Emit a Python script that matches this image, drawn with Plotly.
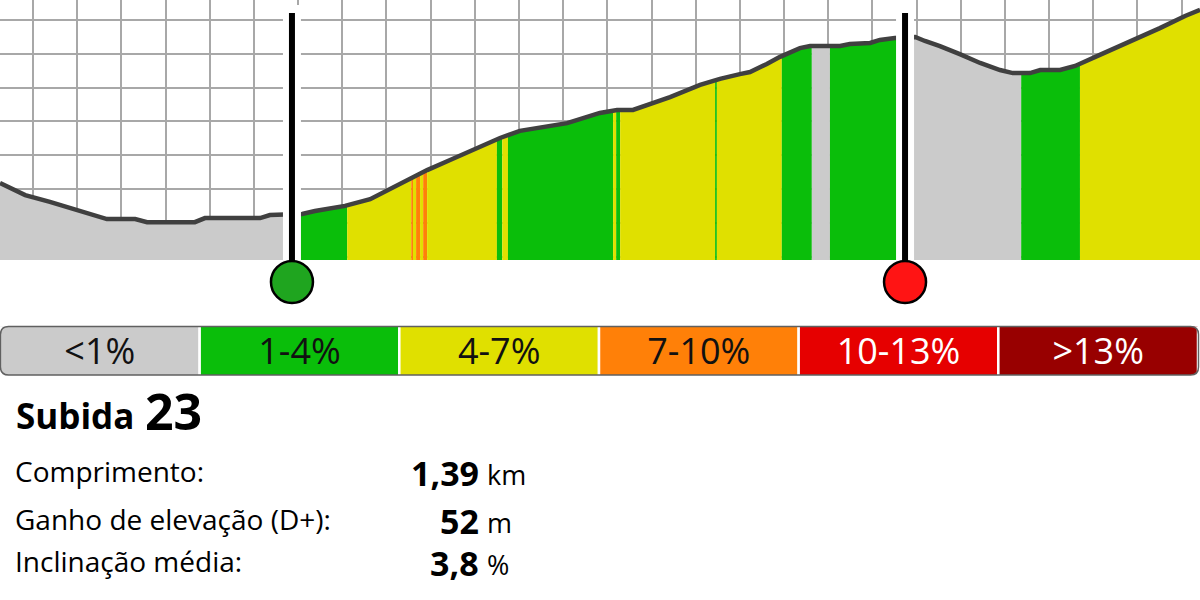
import numpy as np
import plotly.graph_objects as go

# elevation profile (distance km, elevation m)
dist_km = [0.925, 0.948, 0.982, 1.038, 1.083, 1.129, 1.167, 1.231, 1.258, 1.366,
           1.389, 1.514, 1.536, 1.586, 1.609, 1.638, 1.672, 1.706, 1.763, 1.831,
           1.853, 1.892, 1.944, 2.000, 2.057, 2.102, 2.148, 2.209, 2.283, 2.322,
           2.358, 2.397, 2.442, 2.510, 2.555, 2.600, 2.623, 2.661, 2.691, 2.736,
           2.759, 2.827, 2.849, 2.895, 2.917, 2.951, 2.974, 2.997, 3.019, 3.053,
           3.098, 3.144, 3.189, 3.218, 3.257, 3.280, 3.325, 3.359, 3.415, 3.483,
           3.551, 3.608, 3.642]
elev_m = [121.8, 120.3, 118.2, 116.2, 114.4, 112.9, 111.1, 111.1, 110.2, 110.2,
          111.4, 111.4, 112.3, 112.5, 112.6, 113.5, 114.1, 115.0, 117.0, 121.5,
          123.3, 125.6, 128.6, 131.8, 135.1, 137.2, 138.3, 139.5, 142.5, 143.4,
          143.4, 145.2, 147.2, 150.8, 152.6, 154.0, 154.6, 157.0, 159.1, 161.7,
          162.3, 162.3, 162.9, 163.2, 164.1, 164.7, 164.8, 165.0, 163.8, 162.3,
          159.9, 157.3, 155.2, 154.3, 154.3, 155.2, 155.2, 156.4, 159.7, 163.5,
          167.6, 171.2, 173.0]

# gradient segments: end of each segment (km) and its gradient class
seg_end_km = [1.586, 1.711, 1.856, 1.860, 1.867, 1.876, 1.883, 1.892, 2.050, 2.062,
              2.075, 2.313, 2.320, 2.329, 2.544, 2.548, 2.695, 2.763, 2.804, 2.974,
              3.237, 3.370, 3.642]
seg_class = [0, 1, 2, 3, 2, 3, 2, 3, 2, 1, 2, 1, 2, 1, 2, 1, 2, 1, 0, 1, 0, 1, 2]

grade_labels = ["<1%", "1-4%", "4-7%", "7-10%", "10-13%", ">13%"]
grade_colors = ["#cbcbcb", "#0abe0a", "#e0e000", "#ff8008", "#e60000", "#980000"]
grade_text_colors = ["#111111", "#111111", "#111111", "#111111", "#ffffff", "#ffffff"]

climb_start_km = 1.586
climb_end_km = 2.974

climb_number = "23"
stat_labels = ["Comprimento:", "Ganho de elevação (D+):", "Inclinação média:"]
stat_values = ["1,39", "52", "3,8"]
stat_units = ["km", "m", "%"]

W, H = 1200, 600
FONT = "Open Sans"


def px(x):
    return x / W


def py(y):
    return 1 - y / H


fig = go.Figure()

d = np.array(dist_km)
e = np.array(elev_m)
start = d[0]
for end, cls in zip(seg_end_km, seg_class):
    inside = (d > start) & (d < end)
    xs = np.concatenate([[start], d[inside], [end]])
    ys = np.interp(xs, d, e)
    fig.add_trace(go.Scatter(x=xs, y=ys, mode="none", fill="tozeroy",
                             fillcolor=grade_colors[cls], hoverinfo="skip",
                             showlegend=False))
    start = end

fig.add_trace(go.Scatter(x=dist_km, y=elev_m, mode="lines",
                         line=dict(color="#404040", width=4.5),
                         hoverinfo="skip", showlegend=False))

# grade legend bar (bar thicker than the axis window, so the label is not shrunk)
widths = [1] * len(grade_labels)
bases = list(np.cumsum([0] + widths[:-1]))
fig.add_trace(go.Bar(x=widths, y=[0] * len(widths), base=bases, orientation="h",
                     width=1, xaxis="x2", yaxis="y2",
                     marker=dict(color=grade_colors, line=dict(color="white", width=2.5)),
                     text=grade_labels, textposition="inside", insidetextanchor="middle",
                     textangle=0,
                     textfont=dict(family=FONT, size=36, color=grade_text_colors),
                     hoverinfo="skip", showlegend=False))

shapes = []
# climb markers
for km, col in [(climb_start_km, "#1fa51f"), (climb_end_km, "#ff1414")]:
    shapes.append(dict(type="rect", xref="x", yref="paper", xsizemode="pixel",
                       xanchor=km, x0=-9, x1=9, y0=py(260), y1=py(5),
                       fillcolor="white", line=dict(width=0)))
    shapes.append(dict(type="line", xref="x", yref="paper", x0=km, x1=km,
                       y0=py(264), y1=py(13), line=dict(color="black", width=6)))
    shapes.append(dict(type="circle", xref="x", yref="paper", xsizemode="pixel",
                       ysizemode="pixel", xanchor=km, yanchor=py(282),
                       x0=-21, x1=21, y0=-21, y1=21, fillcolor=col,
                       line=dict(color="black", width=2.5)))

# rounded outline of the legend bar
bx0, bx1, by0, by1, r = 0.5, 1198.5, 326.5, 375, 8
for cx, cy, sx, sy in [(bx0, by0, 1, 1), (bx1, by0, -1, 1), (bx0, by1, 1, -1), (bx1, by1, -1, -1)]:
    path = (f"M {px(cx)},{py(cy)} L {px(cx + sx * r)},{py(cy)} "
            f"Q {px(cx)},{py(cy)} {px(cx)},{py(cy + sy * r)} Z")
    shapes.append(dict(type="path", xref="paper", yref="paper", path=path,
                       fillcolor="white", line=dict(width=0)))
outline = (f"M {px(bx0 + r)},{py(by0)} L {px(bx1 - r)},{py(by0)} "
           f"Q {px(bx1)},{py(by0)} {px(bx1)},{py(by0 + r)} L {px(bx1)},{py(by1 - r)} "
           f"Q {px(bx1)},{py(by1)} {px(bx1 - r)},{py(by1)} L {px(bx0 + r)},{py(by1)} "
           f"Q {px(bx0)},{py(by1)} {px(bx0)},{py(by1 - r)} L {px(bx0)},{py(by0 + r)} "
           f"Q {px(bx0)},{py(by0)} {px(bx0 + r)},{py(by0)} Z")
shapes.append(dict(type="path", xref="paper", yref="paper", path=outline,
                   line=dict(color="#606060", width=1.5)))

annotations = []
annotations.append(dict(text="<b>Subida</b>", x=px(14), y=py(415), xanchor="left",
                        yanchor="middle", font=dict(family=FONT, size=35, color="black")))
annotations.append(dict(text="<b>" + climb_number + "</b>", x=px(143), y=py(411),
                        xanchor="left", yanchor="middle",
                        font=dict(family=FONT, size=50, color="black")))
row_y = [471, 519, 561]
for lab, val, unit, y in zip(stat_labels, stat_values, stat_units, row_y):
    annotations.append(dict(text=lab, x=px(13), y=py(y), xanchor="left", yanchor="middle",
                            font=dict(family=FONT, size=28, color="black")))
    annotations.append(dict(text="<b>" + val + "</b>", x=px(481), y=py(y + 2),
                            xanchor="right", yanchor="middle",
                            font=dict(family=FONT, size=34, color="black")))
    annotations.append(dict(text=unit, x=px(485), y=py(y + 3), xanchor="left",
                            yanchor="middle", font=dict(family=FONT, size=27, color="black")))
for a in annotations:
    a.update(xref="paper", yref="paper", showarrow=False)

fig.update_layout(
    width=W, height=H,
    margin=dict(l=0, r=0, t=0, b=0),
    paper_bgcolor="white", plot_bgcolor="white",
    font=dict(family=FONT),
    shapes=shapes, annotations=annotations,
    xaxis=dict(range=[0.925, 0.925 + 1200 / 441.7], domain=[0, 1], dtick=0.1, tick0=0,
               showgrid=True, gridcolor="#a8a8a8", gridwidth=2, zeroline=False,
               showticklabels=False, ticks="", fixedrange=True),
    yaxis=dict(range=[99.0, 99.0 + 260 / 3.38], domain=[py(260), 1], dtick=10, tick0=0,
               showgrid=True, gridcolor="#a8a8a8", gridwidth=2, zeroline=False,
               showticklabels=False, ticks="", fixedrange=True),
    xaxis2=dict(range=[0, 6], domain=[0, 1198 / 1200], anchor="y2", visible=False,
                fixedrange=True),
    yaxis2=dict(range=[-0.38, 0.38], domain=[py(375), py(326.5)], anchor="x2",
                visible=False, fixedrange=True),
    barmode="overlay",
)

fig.write_html("out.html", config={"displayModeBar": False},
               post_script="document.body.style.margin='0';")
